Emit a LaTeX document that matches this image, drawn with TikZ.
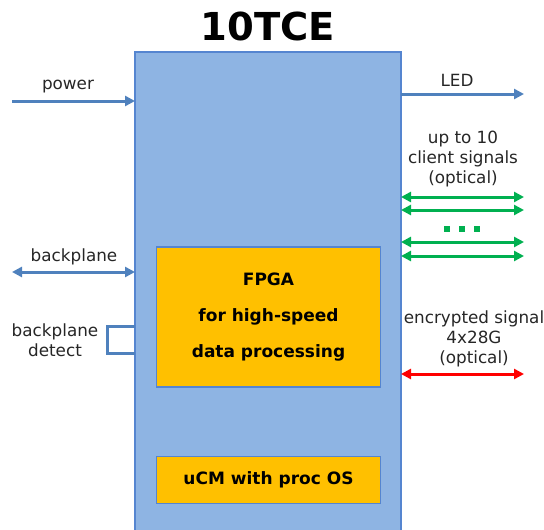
\documentclass[tikz,border=0pt]{standalone}
\usepackage{fontspec}
\setmainfont{DejaVu Sans}
\usetikzlibrary{arrows.meta,calc}
\definecolor{boxblue}{HTML}{8EB4E3}
\definecolor{edgeblue}{HTML}{5585D0}
\definecolor{arrblue}{HTML}{4F81BD}
\definecolor{fpgaor}{HTML}{FFC000}
\definecolor{grn}{HTML}{00B050}
\definecolor{rd}{HTML}{FF0000}
\begin{document}
\begin{tikzpicture}[x=1pt,y=-1pt,
  lbl/.style={font=\fontsize{16.8}{20}\selectfont, text=black!85, align=center, inner sep=0pt},
  chip/.style={draw=edgeblue, line width=1.2pt, fill=fpgaor, inner sep=0pt,
     font=\bfseries\fontsize{17}{36}\selectfont, align=center},
  sig/.style={line width=3pt, arrows={-Triangle[length=10pt,width=10pt]}},
  bisig/.style={line width=3pt, arrows={Triangle[length=10pt,width=10pt]-Triangle[length=10pt,width=10pt]}}]
\useasboundingbox (0,0) rectangle (544,530);
% main board
\path[draw=edgeblue, line width=1.5pt, fill=boxblue] (135,560) -- (135,52) -- (401,52) -- (401,560);
\coordinate (mainW) at (135,300);
\coordinate (mainE) at (401,300);
\node[font=\bfseries\fontsize{38.5}{40}\selectfont, inner sep=0pt] (title) at (268,26) {10TCE};
% inner blocks
\node[chip, minimum width=224pt, minimum height=140pt] (fpga) at (268.5,317)
  {FPGA\\for high-speed\\data processing};
\node[chip, minimum width=224pt, minimum height=47pt] (ucm) at (268.5,480) {uCM with proc OS};
% left side
\coordinate (pwS) at (12,101);
\draw[sig, arrblue] (pwS) -- (pwS -| mainW);
\node[lbl] (pwL) at (68,87) {power};
\coordinate (bpS) at (12,272);
\draw[bisig, arrblue] (bpS) -- (bpS -| mainW);
\node[lbl] (bpL) at (74,257) {backplane};
\coordinate (bdA) at (107,326);
\coordinate (bdB) at (107,353);
\draw[arrblue, line width=3pt] (bdA -| mainW) -- (bdA) -- (bdB) -- (bdB -| mainW);
\node[lbl] (bdL) at (55,340) {backplane\\detect};
% right side
\coordinate (ledE) at (524,94);
\draw[sig, arrblue] (ledE -| mainE) -- (ledE);
\node[lbl] (ledL) at (457,80) {LED};
\node[lbl] (clL) at (463,159) {up to 10\\client signals\\(optical)};
\foreach \yy/\nm in {197/c1,210/c2,242/c3,256/c4}{
  \coordinate (\nm) at (524,\yy);
  \draw[bisig, grn] (\nm -| mainE) -- (\nm);
}
\foreach \xx/\nm in {447/d1,462/d2,477/d3}{
  \node[fill=grn, minimum size=6pt, inner sep=0pt] (\nm) at (\xx,229) {};
}
\node[lbl] (enL) at (474,339) {encrypted signal\\4x28G\\(optical)};
\coordinate (enE) at (524,374);
\draw[bisig, rd] (enE -| mainE) -- (enE);
\end{tikzpicture}
\end{document}
